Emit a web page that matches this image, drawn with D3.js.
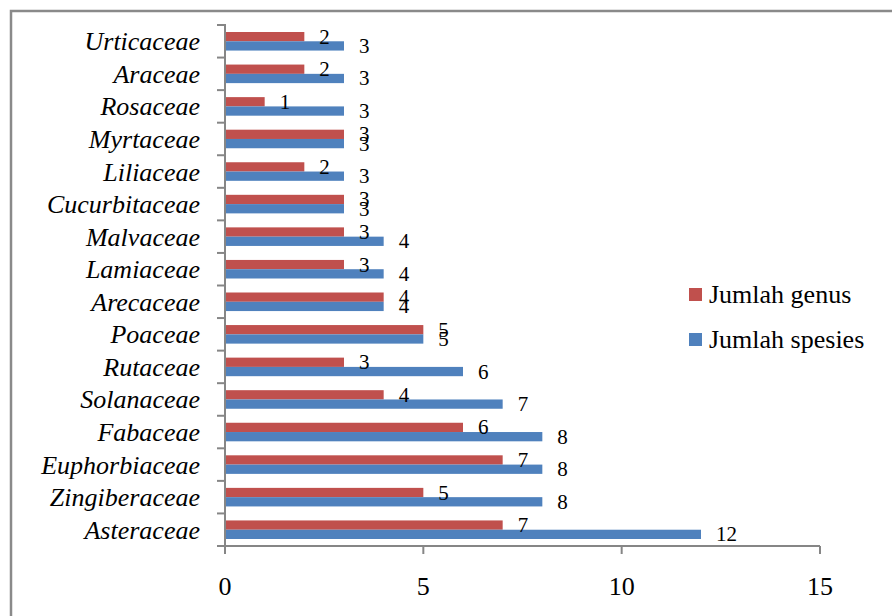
<!DOCTYPE html>
<html>
<head>
<meta charset="utf-8">
<script src="https://cdn.jsdelivr.net/npm/d3@7"></script>
<style>
  html, body { margin: 0; padding: 0; background: #fff; }
  svg { display: block; }
</style>
</head>
<body>
<svg id="chart" width="892" height="616"></svg>
<script>
// Data (top to bottom as drawn)
const categories = ["Urticaceae","Araceae","Rosaceae","Myrtaceae","Liliaceae","Cucurbitaceae","Malvaceae","Lamiaceae","Arecaceae","Poaceae","Rutaceae","Solanaceae","Fabaceae","Euphorbiaceae","Zingiberaceae","Asteraceae"];
const genusValues   = [2,2,1,3,2,3,3,3,4,5,3,4,6,7,5,7];
const spesiesValues = [3,3,3,3,3,3,4,4,4,5,6,7,8,8,8,12];
const seriesNames = ["Jumlah genus","Jumlah spesies"];
const seriesColors = ["#C0504D","#4F81BD"];
const xTicks = [0,5,10,15];

(function(){
const svg = d3.select("#chart");
const mLeft = 225, mRight = 820, mTop = 25, mBottom = 546;
const FONT = "'Liberation Serif', 'Times New Roman', serif";

// Outer frame
svg.append("rect").attr("x",11).attr("y",11).attr("width",1000).attr("height",1000)
  .attr("fill","none").attr("stroke","#8a8a8a").attr("stroke-width",2.5);

const x = d3.scaleLinear().domain([0,15]).range([mLeft,mRight]);
const y0 = d3.scaleBand().domain(categories).range([mTop,mBottom]).paddingInner(0.43).paddingOuter(0.215);
const y1 = d3.scaleBand().domain(seriesNames).range([0,y0.bandwidth()]);

const rows = categories.map((c,i)=>({cat:c, vals:[genusValues[i], spesiesValues[i]]}));

const g = svg.append("g");
rows.forEach(r=>{
  r.vals.forEach((v,j)=>{
    const yy = y0(r.cat) + y1(seriesNames[j]);
    g.append("rect").attr("x",x(0)).attr("y",yy)
      .attr("width",x(v)-x(0)).attr("height",y1.bandwidth())
      .attr("fill",seriesColors[j]);
  });
});

rows.forEach(r=>{
  r.vals.forEach((v,j)=>{
    const yy = y0(r.cat) + y1(seriesNames[j]) + y1.bandwidth()/2;
    g.append("text").attr("x",x(v)+15).attr("y",yy+7)
      .attr("font-family",FONT).attr("font-size",21).attr("fill","#000").text(v);
  });
});

const ax = svg.append("g").attr("stroke","#868686").attr("stroke-width",2);
ax.append("line").attr("x1",mLeft).attr("x2",mLeft).attr("y1",mTop-1).attr("y2",mBottom+1);
const step = y0.step();
for (let i=0;i<=categories.length;i++){
  const yy = mTop + i*step;
  ax.append("line").attr("x1",mLeft-8).attr("x2",mLeft).attr("y1",yy).attr("y2",yy);
}
ax.append("line").attr("x1",mLeft).attr("x2",mRight).attr("y1",mBottom).attr("y2",mBottom);
xTicks.forEach(t=>{
  ax.append("line").attr("x1",x(t)).attr("x2",x(t)).attr("y1",mBottom).attr("y2",mBottom+8);
});

xTicks.forEach(t=>{
  svg.append("text").attr("x",x(t)).attr("y",595).attr("text-anchor","middle")
    .attr("font-family",FONT).attr("font-size",26).attr("fill","#000").text(t);
});

categories.forEach(c=>{
  svg.append("text").attr("x",200).attr("y",y0(c)+y0.bandwidth()/2+9)
    .attr("text-anchor","end").attr("font-style","italic")
    .attr("font-family",FONT).attr("font-size",26).attr("fill","#000").text(c);
});

const legY = [288, 333];
seriesNames.forEach((s,i)=>{
  svg.append("rect").attr("x",689).attr("y",legY[i]).attr("width",13).attr("height",13)
    .attr("fill",seriesColors[i]);
  svg.append("text").attr("x",709).attr("y",legY[i]+15)
    .attr("font-family",FONT).attr("font-size",26).attr("fill","#000").text(s);
});
})();
</script>
</body>
</html>
